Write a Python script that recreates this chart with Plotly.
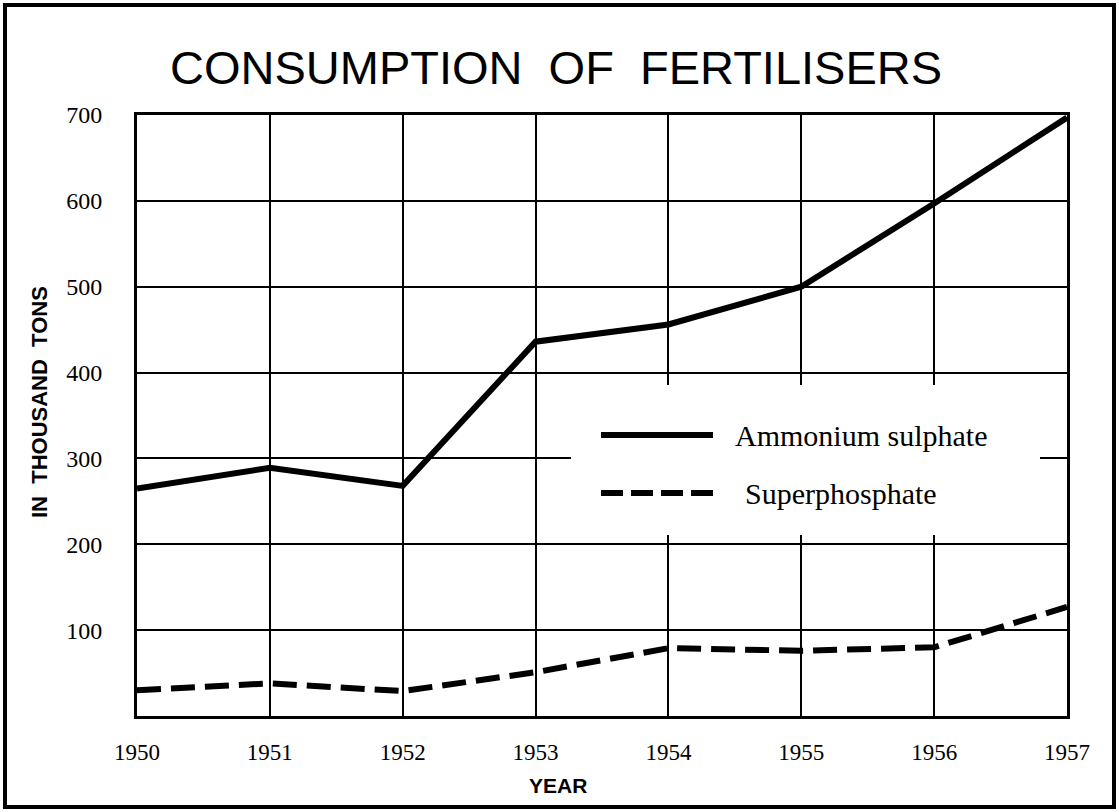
import plotly.graph_objects as go

years = [1950, 1951, 1952, 1953, 1954, 1955, 1956, 1957]
ammonium_sulphate = [265, 289, 268, 436, 456, 500, 597, 697]
superphosphate = [30, 38, 29, 51, 79, 76, 80, 127]
y_ticks = [100, 200, 300, 400, 500, 600, 700]

W, H = 1119, 812
L, R, T, B = 137, 1067, 115, 716


def px(x):
    return (x - L) / (R - L)


def py(y):
    return (B - y) / (B - T)


fig = go.Figure()
fig.add_trace(go.Scatter(x=years, y=ammonium_sulphate, mode="lines",
                         name="Ammonium sulphate",
                         line=dict(color="black", width=6)))
fig.add_trace(go.Scatter(x=years, y=superphosphate, mode="lines",
                         name="Superphosphate",
                         line=dict(color="black", width=6, dash="24px,10px")))

shapes = [
    # outer frame
    dict(type="rect", xref="paper", yref="paper", x0=px(5), x1=px(1114),
         y0=py(807), y1=py(5), line=dict(color="black", width=4), layer="above"),
    # legend box (white, hides grid)
    dict(type="rect", xref="paper", yref="paper", x0=px(571), x1=px(1040),
         y0=py(535), y1=py(385), fillcolor="white", line=dict(width=0), layer="above"),
    dict(type="line", xref="paper", yref="paper", x0=px(601), x1=px(713),
         y0=py(435), y1=py(435), line=dict(color="black", width=6), layer="above"),
    dict(type="line", xref="paper", yref="paper", x0=px(601), x1=px(713),
         y0=py(493), y1=py(493), line=dict(color="black", width=6, dash="22px,8px"),
         layer="above"),
]

annotations = [
    dict(text="CONSUMPTION\u00a0\u00a0OF\u00a0\u00a0FERTILISERS", xref="paper", yref="paper",
         x=px(556), y=py(67), xanchor="center", yanchor="middle", showarrow=False,
         font=dict(family="Liberation Sans", size=47, color="black")),
    dict(text="IN\u00a0 THOUSAND\u00a0 TONS", xref="paper", yref="paper",
         x=px(39), y=py(402), xanchor="center", yanchor="middle", showarrow=False,
         textangle=-90,
         font=dict(family="Liberation Sans", size=22, color="black", weight="bold")),
    dict(text="YEAR", xref="paper", yref="paper",
         x=px(558), y=py(786), xanchor="center", yanchor="middle", showarrow=False,
         font=dict(family="Liberation Sans", size=21, color="black", weight="bold")),
    dict(text="Ammonium sulphate", xref="paper", yref="paper",
         x=px(733), y=py(435), xanchor="left", yanchor="middle", showarrow=False,
         font=dict(family="Liberation Serif", size=30, color="black")),
    dict(text="Superphosphate", xref="paper", yref="paper",
         x=px(743), y=py(493), xanchor="left", yanchor="middle", showarrow=False,
         font=dict(family="Liberation Serif", size=30, color="black")),
]

fig.update_layout(
    width=W, height=H,
    margin=dict(l=L, r=W - R, t=T, b=H - B, pad=0),
    paper_bgcolor="white", plot_bgcolor="white",
    showlegend=False,
    shapes=shapes, annotations=annotations,
    xaxis=dict(range=[1950, 1957], tickvals=years, ticktext=[str(y) for y in years],
               showgrid=True, gridcolor="black", gridwidth=2,
               showline=True, linecolor="black", linewidth=3, mirror=True,
               zeroline=False, ticks="", ticklabelstandoff=13,
               tickfont=dict(family="Liberation Serif", size=23, color="black")),
    yaxis=dict(range=[0, 700], tickvals=y_ticks,
               showgrid=True, gridcolor="black", gridwidth=2,
               showline=True, linecolor="black", linewidth=3, mirror=True,
               zeroline=False, ticks="", ticklabelstandoff=27,
               tickfont=dict(family="Liberation Serif", size=24, color="black")),
)

fig.write_html("out.html", config={"displayModeBar": False},
               post_script="document.body.style.margin='0';document.body.style.overflow='hidden';")
